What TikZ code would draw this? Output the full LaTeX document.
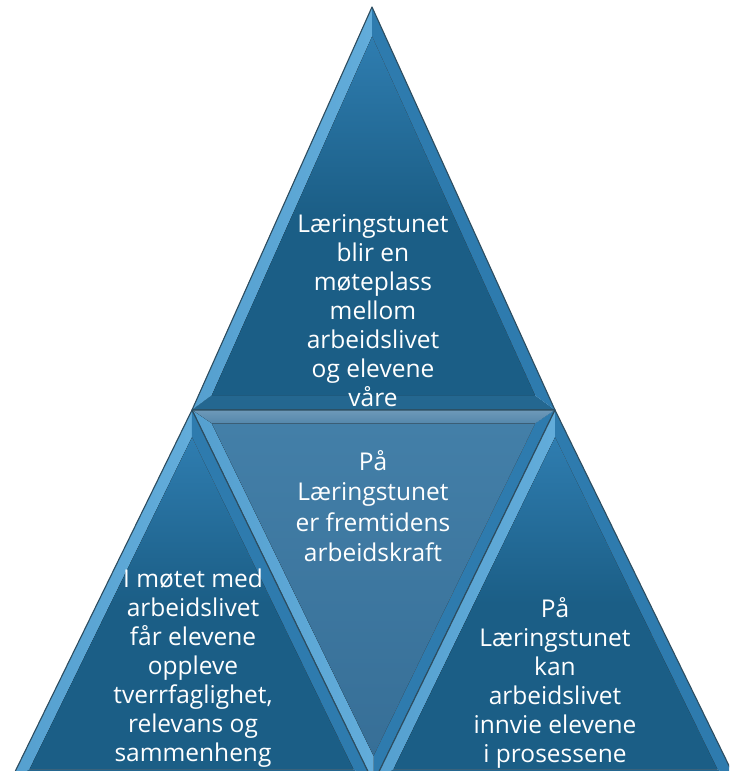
\documentclass[tikz,border=0pt]{standalone}
\usepackage{fontspec}
\setmainfont{Open Sans}
\usetikzlibrary{calc}

\definecolor{face}{HTML}{1B5E86}
\definecolor{facelt}{HTML}{2F7DB0}
\definecolor{midface}{HTML}{376F97}
\definecolor{midfacelt}{HTML}{437FA8}
\definecolor{bevhi}{HTML}{62ACDA}
\definecolor{bevmid}{HTML}{2E7BAE}
\definecolor{bevlow}{HTML}{246790}
\definecolor{bevgrey}{HTML}{5487AC}
\definecolor{rimcol}{HTML}{2D4D60}

\tikzset{
  rim/.style={draw=rimcol, line width=1.1pt, line join=round},
  hiside/.style={left color=bevhi!75!bevmid, right color=bevhi},
  midside/.style={fill=bevmid},
  lowside/.style={fill=bevlow},
  greyside/.style={top color=bevgrey!85!white, bottom color=bevgrey},
  darkface/.style={top color=facelt, bottom color=face, middle color=face},
  lightface/.style={top color=midfacelt, bottom color=midface},
  lbl/.style={text=white, align=center, inner sep=0pt,
    font=\fontsize{24.5}{29}\selectfont},
}

% #1 name, #2-#4 corners, #5-#7 bevel styles (ab, bc, ca), #8 face style
\newcommand{\bevtri}[8]{%
  \coordinate (#1a) at #2;
  \coordinate (#1b) at #3;
  \coordinate (#1c) at #4;
  \coordinate (#1g) at (barycentric cs:#1a=1,#1b=1,#1c=1);
  \coordinate (#1ia) at ($(#1a)!0.11!(#1g)$);
  \coordinate (#1ib) at ($(#1b)!0.11!(#1g)$);
  \coordinate (#1ic) at ($(#1c)!0.11!(#1g)$);
  \fill[#5] (#1a) -- (#1b) -- (#1ib) -- (#1ia) -- cycle;
  \fill[#6] (#1b) -- (#1c) -- (#1ic) -- (#1ib) -- cycle;
  \fill[#7] (#1c) -- (#1a) -- (#1ia) -- (#1ic) -- cycle;
  \fill[#8] (#1ia) -- (#1ib) -- (#1ic) -- cycle;
  \draw[rim] (#1a) -- (#1b) -- (#1c) -- cycle;
}

\begin{document}
\begin{tikzpicture}[x=1pt,y=-1pt]
  \useasboundingbox (0,0) rectangle (729,771);
  \clip (0,0) rectangle (729,771);

  \bevtri{top}{(372,7)}{(192,410)}{(555,410)}{hiside}{lowside}{midside}{darkface}
  \bevtri{mid}{(192,410)}{(555,410)}{(373.5,783)}{greyside}{midside}{hiside}{lightface}
  \bevtri{lft}{(192,410)}{(9.5,783)}{(373.5,783)}{hiside}{lowside}{midside}{darkface}
  \bevtri{rgt}{(555,410)}{(373.5,783)}{(737.5,783)}{hiside}{lowside}{midside}{darkface}

  \node[lbl] (toptext) at (373,311) {Læringstunet\\blir en\\møteplass\\mellom\\arbeidslivet\\og elevene\\våre};
  \node[lbl, font=\fontsize{24.5}{30.5}\selectfont] (midtext) at (373,506) {På\\Læringstunet\\er fremtidens\\arbeidskraft};
  \node[lbl] (lfttext) at (193,668) {I møtet med\\arbeidslivet\\får elevene\\oppleve\\tverrfaglighet,\\relevans og\\sammenheng};
  \node[lbl] (rgttext) at (555,683) {På\\Læringstunet\\kan\\arbeidslivet\\innvie elevene\\i prosessene};
\end{tikzpicture}
\end{document}
